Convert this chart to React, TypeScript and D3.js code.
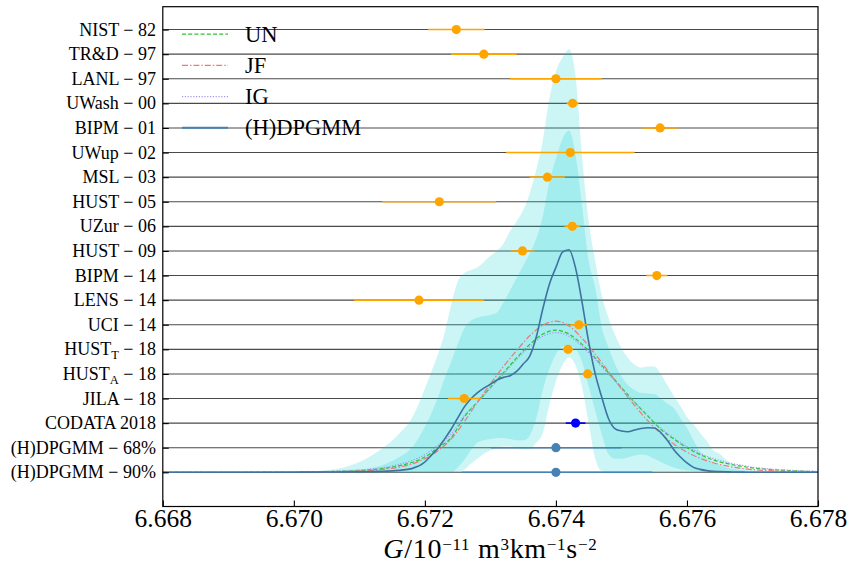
import React, { useEffect, useRef } from 'react';
import { select, scaleLinear, area, line, curveMonotoneX, axisBottom, axisLeft, format } from 'd3';

// measurements of G (units 1e-11)
const expLabels = ['NIST_ − 82', 'TR&D_ − 97', 'LANL_ − 97', 'UWash_ − 00', 'BIPM_ − 01', 'UWup_ − 02', 'MSL_ − 03',
  'HUST_ − 05', 'UZur_ − 06', 'HUST_ − 09', 'BIPM_ − 14', 'LENS_ − 14', 'UCI_ − 14', 'HUST_T − 18', 'HUST_A − 18', 'JILA_ − 18'];
const expVal = [6.67248, 6.6729, 6.674, 6.674255, 6.67559, 6.67422, 6.67387, 6.67222, 6.67425, 6.67349, 6.67554,
  6.67191, 6.67435, 6.674184, 6.674484, 6.6726];
const expErr = [0.00043, 0.0005, 0.0007, 0.000092, 0.00027, 0.00098, 0.00027, 0.00087, 0.00012, 0.00018, 0.00016,
  0.00099, 0.00013, 0.000078, 0.000077, 0.00025];
const codataLabel = 'CODATA 2018_';
const codataVal = 6.6743;
const codataErr = 0.00015;
const hdpLabels = ['(H)DPGMM_ − 68%', '(H)DPGMM_ − 90%'];
const hdpMid = [6.674, 6.674];
const hdpLo = [6.67301, 6.67256];
const hdpHi = [6.6750, 6.67547];

const xTicks = [6.668, 6.67, 6.672, 6.674, 6.676, 6.678];
const legendLabels = ['UN', 'JF', 'IG', '(H)DPGMM'];

// (H)DPGMM posterior density: median and credible bands (density in row units)
const gFine = [6.668, 6.669, 6.67, 6.6705, 6.671, 6.6713, 6.6716, 6.6718,
  6.672, 6.6721, 6.6722, 6.6723, 6.6724, 6.6725, 6.6726, 6.6727, 6.6728, 6.6729,
  6.673, 6.6731, 6.6732, 6.6733, 6.6734, 6.6735, 6.6736, 6.6737, 6.6738, 6.6739,
  6.674, 6.6741, 6.6742, 6.6743, 6.6744, 6.6745, 6.6746, 6.6747, 6.6748, 6.6749,
  6.675, 6.6751, 6.6752, 6.6753, 6.6754, 6.6755, 6.6756, 6.6757, 6.6758, 6.6759,
  6.676, 6.6761, 6.6762, 6.6763, 6.6764, 6.6765, 6.6766, 6.6767, 6.6768, 6.6769,
  6.677, 6.6773, 6.6776, 6.678];
const medDens = [0, 0, 0.005, 0.01, 0.02, 0.04, 0.08, 0.15,
  0.42, 0.7, 0.98, 1.35, 1.75, 2.2, 2.65, 2.98, 3.23, 3.42,
  3.58, 3.75, 3.86, 3.93, 4.1, 4.4, 4.72, 5.5, 6.65, 7.65,
  8.33, 8.95, 9.05, 8.3, 6.9, 5.3, 4.0, 3.05, 2.2, 1.78,
  1.68, 1.65, 1.72, 1.78, 1.81, 1.8, 1.62, 1.3, 0.92, 0.62,
  0.38, 0.2, 0.12, 0.07, 0.04, 0.03, 0.02, 0.01, 0.01, 0.005,
  0, 0, 0, 0];
const up90 = [0, 0.005, 0.015, 0.08, 0.42, 0.88, 1.55, 2.2,
  3.4, 4.1, 4.8, 5.65, 6.8, 7.75, 8.1, 8.22, 8.33, 8.55,
  8.8, 9.0, 9.3, 9.8, 10.2, 10.65, 11.35, 12.3, 13.5, 15.2,
  16.3, 16.85, 17.2, 16.1, 12.8, 10.2, 8.6, 7.2, 6.3, 5.6,
  5.05, 4.65, 4.38, 4.25, 4.3, 4.3, 4.0, 3.55, 3.1, 2.7,
  2.25, 1.95, 1.6, 1.28, 0.9, 0.75, 0.5, 0.33, 0.24, 0.16,
  0.12, 0.06, 0.03, 0.01];
const low90 = [0, 0, 0, 0, 0, 0, 0, 0,
  0, 0, 0, 0, 0, 0, 0.1, 0.35, 0.55, 0.75,
  0.9, 1.0, 1.05, 1.05, 1.0, 0.95, 0.95, 1.2, 1.6, 2.75,
  3.7, 4.35, 4.68, 4.35, 3.45, 2.0, 0.55, 0.05, 0, 0,
  0, 0, 0, 0, 0, 0, 0, 0, 0, 0,
  0, 0, 0, 0, 0, 0, 0, 0, 0, 0,
  0, 0, 0, 0];
const up68 = [0, 0, 0.01, 0.04, 0.12, 0.25, 0.6, 1.0,
  1.85, 2.4, 3.05, 3.8, 4.5, 5.2, 5.85, 6.15, 6.28, 6.35,
  6.4, 6.5, 6.9, 7.4, 7.9, 8.4, 8.9, 9.5, 10.4, 11.8,
  12.75, 13.55, 13.9, 12.9, 10.8, 8.6, 7.5, 5.9, 5.1, 4.4,
  3.9, 3.55, 3.35, 3.22, 3.2, 3.18, 3.0, 2.8, 2.6, 2.2,
  1.8, 1.3, 0.85, 0.58, 0.42, 0.3, 0.2, 0.13, 0.09, 0.06,
  0.04, 0.02, 0.01, 0];
const low68 = [0, 0, 0, 0, 0, 0, 0, 0,
  0, 0, 0, 0, 0, 0.2, 0.5, 0.9, 1.2, 1.3,
  1.35, 1.4, 1.4, 1.35, 1.3, 1.3, 1.5, 2.2, 3.35, 4.2,
  4.8, 5.1, 5.15, 5.0, 4.5, 3.5, 2.5, 1.55, 0.75, 0.55,
  0.55, 0.6, 0.68, 0.72, 0.68, 0.55, 0.42, 0.3, 0.2, 0.12,
  0.08, 0.05, 0.03, 0.01, 0, 0, 0, 0, 0, 0,
  0, 0, 0, 0];

// parametric models, step 0.0002
const gCoarse = [6.668, 6.6682, 6.6684, 6.6686, 6.6688, 6.669, 6.6692, 6.6694, 6.6696, 6.6698,
  6.67, 6.6702, 6.6704, 6.6706, 6.6708, 6.671, 6.6712, 6.6714, 6.6716, 6.6718,
  6.672, 6.6722, 6.6724, 6.6726, 6.6728, 6.673, 6.6732, 6.6734, 6.6736, 6.6738,
  6.674, 6.6742, 6.6744, 6.6746, 6.6748, 6.675, 6.6752, 6.6754, 6.6756, 6.6758,
  6.676, 6.6762, 6.6764, 6.6766, 6.6768, 6.677, 6.6772, 6.6774, 6.6776, 6.6778, 6.678];
const unDens = [0.0005, 0.001, 0.001, 0.001, 0.0015, 0.002, 0.003, 0.004, 0.006, 0.009,
  0.012, 0.018, 0.025, 0.035, 0.05, 0.07, 0.11, 0.17, 0.26, 0.4,
  0.62, 1.0, 1.4, 2.25, 2.85, 3.45, 4.05, 4.65, 5.2, 5.62,
  5.78, 5.62, 5.2, 4.65, 4.05, 3.45, 2.85, 2.3, 1.75, 1.35,
  1.0, 0.72, 0.5, 0.36, 0.26, 0.18, 0.13, 0.09, 0.065, 0.045, 0.03];
const jfDens = [0.0002, 0.0003, 0.0004, 0.0005, 0.0007, 0.001, 0.0015, 0.002, 0.003, 0.004,
  0.006, 0.009, 0.014, 0.02, 0.03, 0.05, 0.08, 0.13, 0.21, 0.34,
  0.55, 0.88, 1.35, 2.05, 2.85, 3.6, 4.3, 4.95, 5.55, 5.98,
  6.15, 5.95, 5.45, 4.8, 4.1, 3.4, 2.72, 2.1, 1.58, 1.15,
  0.82, 0.57, 0.39, 0.26, 0.17, 0.11, 0.075, 0.05, 0.033, 0.022, 0.015];
const igDens = [0.001, 0.001, 0.002, 0.002, 0.003, 0.004, 0.005, 0.006, 0.009, 0.012,
  0.016, 0.023, 0.032, 0.045, 0.065, 0.095, 0.14, 0.21, 0.32, 0.48,
  0.72, 1.1, 1.55, 2.3, 2.84, 3.42, 4.0, 4.58, 5.12, 5.53,
  5.68, 5.53, 5.12, 4.58, 4.0, 3.42, 2.84, 2.3, 1.8, 1.4,
  1.05, 0.77, 0.56, 0.41, 0.3, 0.21, 0.15, 0.11, 0.08, 0.055, 0.04];

const SERIF = '"Liberation Serif", "Times New Roman", serif';

function App() {
  const svgRef = useRef<SVGSVGElement>(null);

  useEffect(() => {
    const width = 848, height = 564;
    const left = 162.8, right = 818, top = 6.7, bottom = 506.5;

    const svg = select(svgRef.current).attr('width', width).attr('height', height);
    svg.selectAll('*').remove();

    const x = scaleLinear().domain([6.668, 6.678]).range([left, right]);
    const y = scaleLinear().domain([-1.39, 18.93]).range([bottom, top]);

    const rowLabels = [...expLabels, codataLabel, ...hdpLabels];
    const nRows = rowLabels.length;
    const rowU = (i: number) => nRows - 1 - i;

    svg.append('defs').append('clipPath').attr('id', 'plotclip')
      .append('rect').attr('x', left).attr('y', top).attr('width', right - left).attr('height', bottom - top);
    const plot = svg.append('g').attr('clip-path', 'url(#plotclip)');

    // horizontal row lines
    plot.selectAll('.rowline').data(rowLabels).join('line')
      .attr('class', 'rowline')
      .attr('x1', left).attr('x2', right)
      .attr('y1', (d, i) => y(rowU(i))).attr('y2', (d, i) => y(rowU(i)))
      .attr('stroke', '#4a4a4a').attr('stroke-width', 1.1);

    // credible bands
    const band = (lo: number[], hi: number[]) => area<number>()
      .x(d => x(d)).y0((d, i) => y(lo[i])).y1((d, i) => y(hi[i])).curve(curveMonotoneX);
    plot.append('path').datum(gFine).attr('d', band(low90, up90))
      .attr('fill', '#00ced1').attr('fill-opacity', 0.2);
    plot.append('path').datum(gFine).attr('d', band(low68, up68))
      .attr('fill', '#00ced1').attr('fill-opacity', 0.2);

    // model curves
    const curve = (vals: number[]) => line<number>()
      .x(d => x(d)).y((d, i) => y(vals[i])).curve(curveMonotoneX);
    const models = [
      { vals: unDens, color: '#2fc42f', dash: '4,2.2' },
      { vals: jfDens, color: '#f07878', dash: '6,2,1.4,2' },
      { vals: igDens, color: '#ab95ee', dash: '1.2,1.6' },
    ];
    models.forEach(m => {
      plot.append('path').datum(gCoarse).attr('d', curve(m.vals))
        .attr('fill', 'none').attr('stroke', m.color).attr('stroke-width', 1.2)
        .attr('stroke-dasharray', m.dash);
    });
    plot.append('path').datum(gFine).attr('d', curve(medDens))
      .attr('fill', 'none').attr('stroke', '#40719f').attr('stroke-width', 1.6);

    // measurements
    const pts = plot.append('g');
    expVal.forEach((v, i) => {
      pts.append('line').attr('x1', x(v - expErr[i])).attr('x2', x(v + expErr[i]))
        .attr('y1', y(rowU(i))).attr('y2', y(rowU(i)))
        .attr('stroke', '#ffa500').attr('stroke-width', 1.6);
      pts.append('circle').attr('cx', x(v)).attr('cy', y(rowU(i))).attr('r', 4.6).attr('fill', '#ffa500');
    });
    const ci = expVal.length;
    pts.append('line').attr('x1', x(codataVal - codataErr)).attr('x2', x(codataVal + codataErr))
      .attr('y1', y(rowU(ci))).attr('y2', y(rowU(ci))).attr('stroke', '#0000ff').attr('stroke-width', 1.6);
    pts.append('circle').attr('cx', x(codataVal)).attr('cy', y(rowU(ci))).attr('r', 4.6).attr('fill', '#0000ff');
    hdpMid.forEach((v, k) => {
      const i = ci + 1 + k;
      pts.append('line').attr('x1', x(hdpLo[k])).attr('x2', x(hdpHi[k]))
        .attr('y1', y(rowU(i))).attr('y2', y(rowU(i))).attr('stroke', '#4682b4').attr('stroke-width', 1.6);
      pts.append('circle').attr('cx', x(v)).attr('cy', y(rowU(i))).attr('r', 4.6).attr('fill', '#4682b4');
    });

    // legend
    const legStyles = [
      { color: '#2fc42f', dash: '4,2.2', w: 1.2 },
      { color: '#f07878', dash: '6,2,1.4,2', w: 1.2 },
      { color: '#ab95ee', dash: '1.2,1.6', w: 1.2 },
      { color: '#4682b4', dash: null, w: 2 },
    ];
    const leg = svg.append('g');
    legendLabels.forEach((lab, i) => {
      const ly = 34.2 + i * 31.2;
      leg.append('line').attr('x1', 182).attr('x2', 228).attr('y1', ly).attr('y2', ly)
        .attr('stroke', legStyles[i].color).attr('stroke-width', legStyles[i].w)
        .attr('stroke-dasharray', legStyles[i].dash);
      leg.append('text').attr('x', 245).attr('y', ly).attr('dy', '0.34em')
        .attr('font-family', SERIF).attr('font-size', 22.5).attr('fill', '#000').text(lab);
    });

    // axes
    const xAxis = axisBottom(x).tickValues(xTicks).tickFormat(format('.3f'))
      .tickSizeInner(-6).tickSizeOuter(0).tickPadding(2);
    const gx = svg.append('g').attr('transform', `translate(0,${bottom})`).call(xAxis);
    gx.select('.domain').remove();
    gx.selectAll('line').attr('stroke', '#000').attr('stroke-width', 1.1);
    gx.selectAll('text').attr('font-family', SERIF).attr('font-size', 25.5).attr('fill', '#000');

    const yAxis = axisLeft(y).tickValues(rowLabels.map((d, i) => rowU(i)))
      .tickFormat(() => '').tickSizeInner(-6).tickSizeOuter(0);
    const gy = svg.append('g').attr('transform', `translate(${left},0)`).call(yAxis);
    gy.select('.domain').remove();
    gy.selectAll('line').attr('stroke', '#000').attr('stroke-width', 1.1);

    // row labels (with subscripts)
    const labG = svg.append('g').attr('font-family', SERIF).attr('font-size', 18).attr('fill', '#000');
    rowLabels.forEach((lab, i) => {
      const [head, rest] = lab.split('_');
      const sub = rest.match(/^[A-Z]/) ? rest[0] : '';
      const tail = sub ? rest.slice(1) : rest;
      const t = labG.append('text').attr('x', 156).attr('y', y(rowU(i))).attr('dy', '0.34em')
        .attr('text-anchor', 'end');
      t.append('tspan').text(head);
      if (sub) {
        t.append('tspan').attr('font-size', 12.5).attr('dy', 3.5).text(sub);
        t.append('tspan').attr('dy', -3.5).text(tail);
      } else {
        t.append('tspan').text(tail);
      }
    });

    // frame
    svg.append('rect').attr('x', left).attr('y', top).attr('width', right - left).attr('height', bottom - top)
      .attr('fill', 'none').attr('stroke', '#000').attr('stroke-width', 1.2);

    // x label
    const xl = svg.append('text').attr('x', (left + right) / 2).attr('y', 557.5).attr('text-anchor', 'middle')
      .attr('font-family', SERIF).attr('font-size', 28).attr('letter-spacing', 0.7).attr('fill', '#000');
    xl.append('tspan').attr('font-style', 'italic').text('G');
    xl.append('tspan').text('/10');
    xl.append('tspan').attr('font-size', 17).attr('dy', -8).text('−11');
    xl.append('tspan').attr('dy', 8).text('  m');
    xl.append('tspan').attr('font-size', 17).attr('dy', -8).text('3');
    xl.append('tspan').attr('dy', 8).text('km');
    xl.append('tspan').attr('font-size', 17).attr('dy', -8).text('−1');
    xl.append('tspan').attr('dy', 8).text('s');
    xl.append('tspan').attr('font-size', 17).attr('dy', -8).text('−2');
  }, []);

  return (
    <svg ref={svgRef} style={{ position: 'absolute', left: 0, top: 0, background: '#fff' }} />
  );
}

export default App;
